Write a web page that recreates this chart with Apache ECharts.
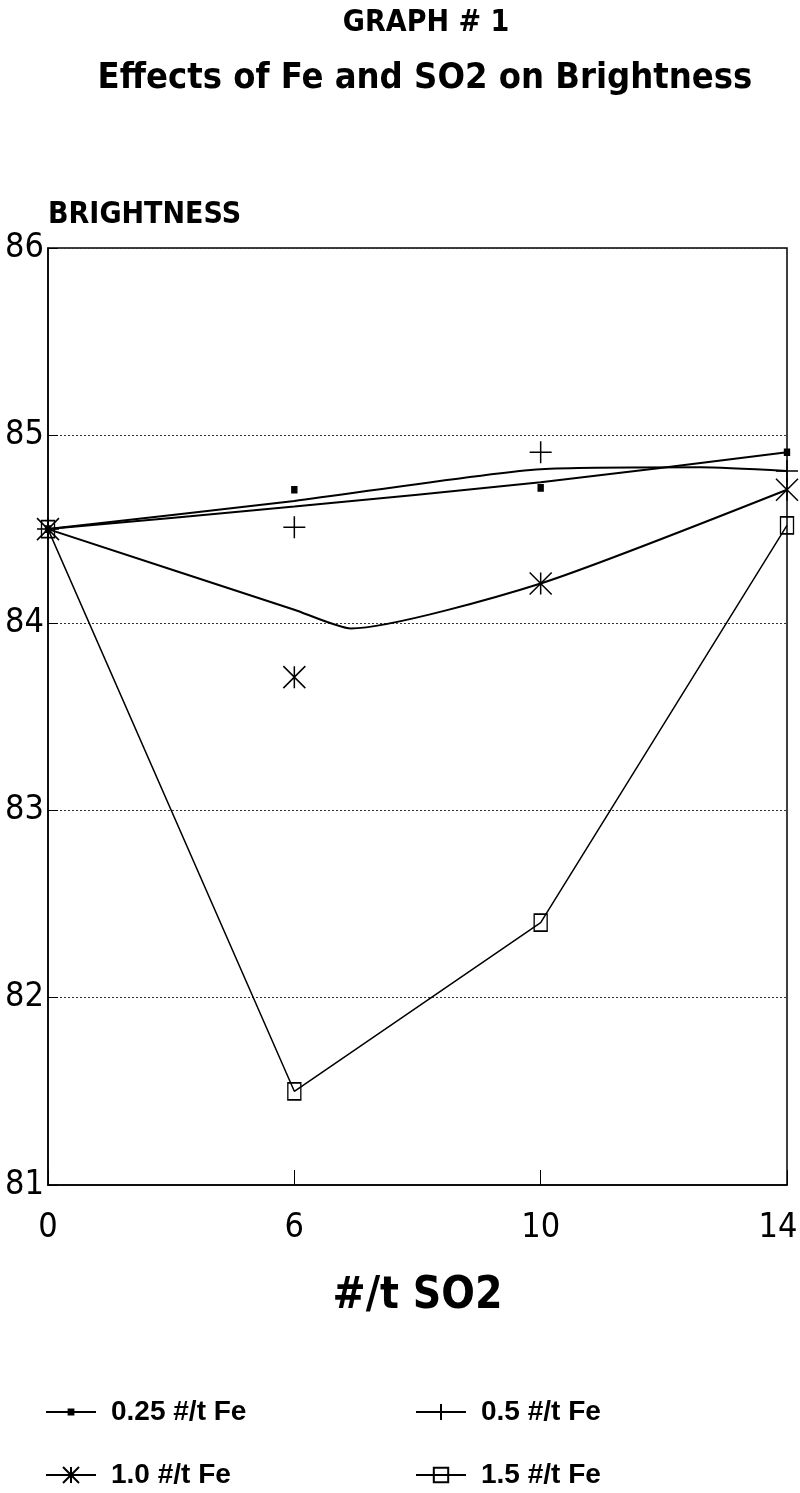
<!DOCTYPE html>
<html>
<head>
<meta charset="utf-8">
<script src="https://cdn.jsdelivr.net/npm/echarts@6/dist/echarts.min.js"></script>
<style>
html,body{margin:0;padding:0;background:#fff;}
#chart{width:800px;height:1493px;}
</style>
</head>
<body>
<div id="chart"></div>
<script>
// ---- data ----
const xLabels = ['0', '6', '10', '14'];      // #/t SO2 (equally spaced categories)
const xPos = [0, 1, 2, 3];                      // category positions
const seriesNames = ['0.25 #/t Fe', '0.5 #/t Fe', '1.0 #/t Fe', '1.5 #/t Fe'];

// measured points
const v025 = [84.5, 84.71, 84.72, 84.91];
const v05  = [84.5, 84.51, 84.91, 84.81];
const v10  = [84.5, 83.71, 84.21, 84.71];
const v15  = [84.5, 81.5, 82.4, 84.52];

// fitted curves
const fit025X = [0, 1, 2, 3];
const fit025  = [84.5, 84.62, 84.75, 84.91];
const fit05X  = [0, 1, 2, 2.65, 3];
const fit05   = [84.5, 84.65, 84.82, 84.83, 84.81];
const fit10X  = [0, 1, 1.23, 2, 3];
const fit10   = [84.5, 84.07, 83.97, 84.21, 84.71];

const yMin = 81, yMax = 86, yStep = 1;

const FONT = "'Liberation Sans Narrow', 'DejaVu Sans Condensed', 'Liberation Sans', sans-serif";
const LFONT = "'Liberation Sans', sans-serif";
const pairs = (xs, ys) => xs.map((x, i) => [x, ys[i]]);

const plusPath = 'path://M0,10 L20,10 M10,0 L10,20';
const starPath = 'path://M10,0 L10,20 M4,0 L16,20 M16,0 L4,20';

const chart = echarts.init(document.getElementById('chart'));
const markerSeries = (name, data, symbol, size) => ({
  name, type: 'line', data: pairs(xPos, data),
  symbol, symbolSize: size, showSymbol: true,
  lineStyle: { width: 0, opacity: 0 },
  itemStyle: { color: '#000', borderColor: '#000', borderWidth: 1.5 },
  z: 4, silent: true
});
const fitSeries = (xs, ys) => ({
  type: 'line', data: pairs(xs, ys), symbol: 'none', smooth: 0.2,
  lineStyle: { color: '#000', width: 2 }, z: 3, silent: true
});
const legendItem = (name, left, top, itemHeight) => ({
  data: [{ name }], left, top, orient: 'horizontal', padding: 0,
  itemWidth: 50, itemHeight, selectedMode: false,
  lineStyle: { color: '#000', width: 2, opacity: 1 },
  textStyle: { fontFamily: LFONT, fontSize: 28, fontWeight: 'bold', color: '#000', padding: [0, 0, 0, 10] }
});

chart.setOption({
  animation: false,
  backgroundColor: '#fff',
  textStyle: { fontFamily: FONT, color: '#000' },
  title: [
    { text: 'GRAPH # 1', left: 421, top: 3, textAlign: 'center',
      textStyle: { fontFamily: FONT, fontSize: 30, fontWeight: 'bold', color: '#000' } },
    { text: 'Effects of Fe and SO2 on Brightness', left: 420, top: 56, textAlign: 'center',
      textStyle: { fontFamily: FONT, fontSize: 36, fontWeight: 'bold', color: '#000' } }
  ],
  grid: { left: 48, right: 13, top: 248, bottom: 308, show: true, borderColor: '#000', borderWidth: 1.5,
          outerBoundsMode: 'none', containLabel: false },
  xAxis: {
    type: 'value', min: 0, max: 3, interval: 1,
    name: '#/t SO2', nameLocation: 'middle', nameGap: 90,
    nameTextStyle: { fontFamily: FONT, fontSize: 44, fontWeight: 'bold', color: '#000' },
    axisLine: { lineStyle: { color: '#000', width: 1.5 } },
    axisTick: { inside: true, length: 15, lineStyle: { color: '#000' } },
    axisLabel: { fontFamily: FONT, fontSize: 34, color: '#000', margin: 26,
      formatter: v => {
        const i = Math.round(v);
        return i === xLabels.length - 1 ? '{last|' + xLabels[i] + '}' : xLabels[i];
      },
      rich: { last: { fontFamily: FONT, fontSize: 34, color: '#000', padding: [0, 18, 0, 0] } } },
    splitLine: { show: false }
  },
  yAxis: {
    type: 'value', min: yMin, max: yMax, interval: yStep,
    name: 'BRIGHTNESS', nameLocation: 'end', nameGap: 18,
    nameTextStyle: { fontFamily: FONT, fontSize: 30, fontWeight: 'bold', color: '#000', align: 'left' },
    axisLine: { show: true, lineStyle: { color: '#000', width: 1.5 } },
    axisTick: { inside: true, length: 10, lineStyle: { color: '#000' } },
    axisLabel: { fontFamily: FONT, fontSize: 34, color: '#000', margin: 4 },
    splitLine: { show: true, lineStyle: { color: '#333', type: [2, 2], width: 1 } }
  },
  legend: [
    legendItem(seriesNames[0], 45, 1398, 6),
    legendItem(seriesNames[2], 45, 1461, 20),
    legendItem(seriesNames[1], 415, 1398, 20),
    legendItem(seriesNames[3], 415, 1461, 18)
  ],
  series: [
    markerSeries(seriesNames[0], v025, 'rect', [5, 6]),
    markerSeries(seriesNames[1], v05, plusPath, 22),
    markerSeries(seriesNames[2], v10, starPath, 22),
    {
      name: seriesNames[3], type: 'line', data: pairs(xPos, v15),
      symbol: 'rect', symbolSize: [13, 17], showSymbol: true,
      lineStyle: { color: '#000', width: 1.5 },
      itemStyle: { color: 'rgba(0,0,0,0)', borderColor: '#000', borderWidth: 1.5 },
      z: 4, silent: true
    },
    fitSeries(fit025X, fit025),
    fitSeries(fit05X, fit05),
    fitSeries(fit10X, fit10)
  ]
});
</script>
</body>
</html>
